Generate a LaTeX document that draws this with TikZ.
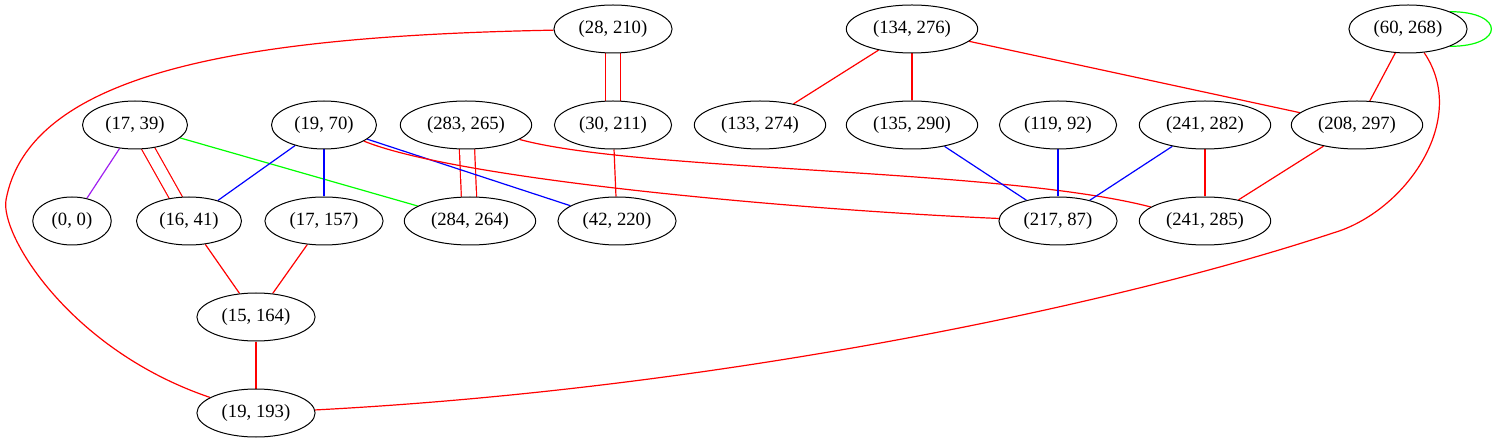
\documentclass[tikz,border=0pt]{standalone}
\usepackage{fontspec}
\setmainfont{Liberation Serif}
\usetikzlibrary{
  shapes.geometric,
  positioning,
  backgrounds
}
\definecolor{gvpurple}{HTML}{A020F0}

\begin{document}
\begin{tikzpicture}[x=1pt, y=-1pt, node distance = 96pt, on grid,
    vertex/.style = {draw, ellipse, fill=white, line width=1pt,
      inner xsep=7.5pt, inner ysep=2pt, minimum height=48pt,
      font=\fontsize{18.7}{22}\selectfont},
    rd/.style = {draw=red, line width=1.2pt},
    bl/.style = {draw=blue, line width=1.2pt},
    gr/.style = {draw=green, line width=1.2pt},
    pu/.style = {draw=gvpurple, line width=1.2pt},
    twin/.style = {rd, double=white, double distance=#1,
      shorten <=-3pt, shorten >=-3pt}]
    \useasboundingbox (0,0) rectangle (1495,443);

    \node[vertex] (1) at (613,29) {(28, 210)};
    \node[vertex, right = 299pt of 1] (2) {(134, 276)};
    \node[vertex, right = 496pt of 2] (3) {(60, 268)};
    \node[vertex, below = of 1] (7) {(30, 211)};
    \node[vertex, left = 147pt of 7] (6) {(283, 265)};
    \node[vertex, left = 142pt of 6] (5) {(19, 70)};
    \node[vertex, left = 189pt of 5] (4) {(17, 39)};
    \node[vertex, right = 147pt of 7] (8) {(133, 274)};
    \node[vertex, below = of 2] (9) {(135, 290)};
    \node[vertex, right = 146pt of 9] (10) {(119, 92)};
    \node[vertex, right = 147pt of 10] (11) {(241, 282)};
    \node[vertex, right = 152pt of 11] (12) {(208, 297)};
    \node[vertex, below left = 96pt and 63pt of 4] (13) {(0, 0)};
    \node[vertex, below right = 96pt and 54pt of 4] (14) {(16, 41)};
    \node[vertex, below = of 5] (15) {(17, 157)};
    \node[vertex, below right = 96pt and 4pt of 6] (16) {(284, 264)};
    \node[vertex, below right = 96pt and 4pt of 7] (17) {(42, 220)};
    \node[vertex, below = of 10] (18) {(217, 87)};
    \node[vertex, below = of 11] (19) {(241, 285)};
    \node[vertex, below right = 96pt and 67pt of 14] (20) {(15, 164)};
    \node[vertex, below = of 20] (21) {(19, 193)};

    \begin{scope}[on background layer]
      % doubled edges first, the others cross over them
      \draw[twin=14pt] (1) -- (7);
      \draw[twin=11pt] (4) -- (14);
      \draw[twin=14pt] (6) -- (16);

      \draw[rd] (1) .. controls (250,36) and (30,70) .. (6,200)
                    .. controls (0,235) and (70,350) .. (21);
      \draw[rd] (2) -- (8);
      \draw[rd] (2) -- (9);
      \draw[rd] (2) -- (12);
      \draw[gr] (3.north east) .. controls +(55,0) and +(55,0) .. (3.south east);
      \draw[rd] (3) -- (12);
      \draw[rd] (3) .. controls (1470,120) and (1405,212) .. (1333,233)
                    .. controls (1100,310) and (700,390) .. (21);
      \draw[pu] (4) -- (13);
      \draw[gr] (4) -- (16);
      \draw[bl] (5) -- (14);
      \draw[bl] (5) -- (15);
      \draw[bl] (5) -- (17);
      \draw[rd] (5) .. controls (460,180) and (800,210) .. (18);
      \draw[rd] (6) .. controls (640,172) and (1000,168) .. (19);
      \draw[rd] (7) -- (17);
      \draw[bl] (9) -- (18);
      \draw[bl] (10) -- (18);
      \draw[bl] (11) -- (18);
      \draw[rd] (11) -- (19);
      \draw[rd] (12) -- (19);
      \draw[rd] (14) -- (20);
      \draw[rd] (15) -- (20);
      \draw[rd] (20) -- (21);
    \end{scope}
\end{tikzpicture}
\end{document}
